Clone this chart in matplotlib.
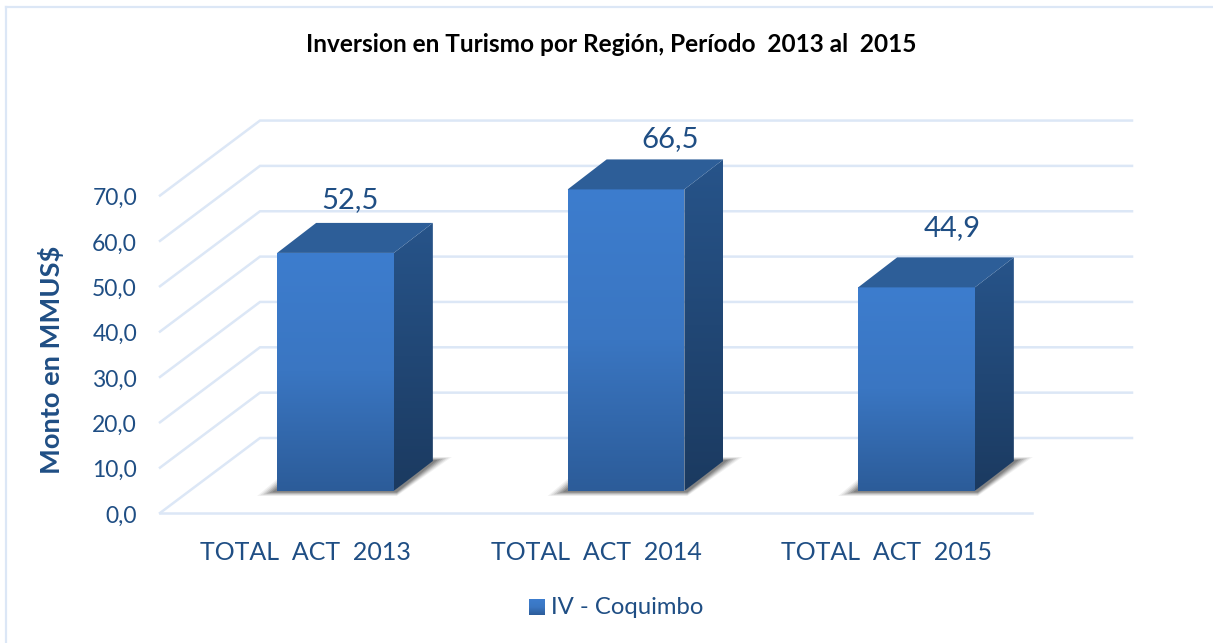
import numpy as np
import matplotlib
matplotlib.use("Agg")
import matplotlib.pyplot as plt
from matplotlib.patches import Polygon, Rectangle
from matplotlib.colors import LinearSegmentedColormap

categories = ["TOTAL  ACT  2013", "TOTAL  ACT  2014", "TOTAL  ACT  2015"]
values = [52.5, 66.5, 44.9]
value_labels = ["52,5", "66,5", "44,9"]
y_ticks = [0, 10, 20, 30, 40, 50, 60, 70]
y_tick_labels = ["0,0", "10,0", "20,0", "30,0", "40,0", "50,0", "60,0", "70,0"]
series_name = "IV - Coquimbo"
title = "Inversion en Turismo por Región, Período  2013 al  2015"
y_title = "Monto en MMUS$"

W, H = 1213, 643
PX_X, PX_Y = 290.5, 4.535
X0, Y0 = 335.5, 491.0
TXT = "#1F4E84"
GRID = "#DCE7F6"
# manual placement of the value labels, in pixels from the bar's back top edge
LABEL_SHIFT_X = [15, 44, 36]
LABEL_SHIFT_Y = [10, 7, 16]

plt.rcParams["font.family"] = ["Lato", "DejaVu Sans"]
fig = plt.figure(figsize=(W / 100, H / 100), dpi=100)
ax = fig.add_axes([0, 0, 1, 1])
ax.set_xlim(-X0 / PX_X, (W - X0) / PX_X)
ax.set_ylim((Y0 - H) / PX_Y, Y0 / PX_Y)
ax.axis("off")

def dx(p):
    return p / PX_X
def dy(p):
    return p / PX_Y

bar_w = dx(116.7)
dep_x, dep_y = dx(39), dy(30)
floor_l = dx(160) - X0 / PX_X
floor_r = dx(1032) - X0 / PX_X
floor_base = dy(-22)
wall_dx, wall_dy = dx(100), dy(75)

# frame
ax.plot([dx(5.5) - X0 / PX_X] * 2, [(Y0 - H) / PX_Y, dy(Y0 - 7)], color=GRID, lw=1.6, zorder=1)
ax.plot([dx(5.5) - X0 / PX_X, dx(1213) - X0 / PX_X], [dy(Y0 - 7)] * 2, color=GRID, lw=1.6, zorder=1)

# grid
for t, lab in zip(y_ticks, y_tick_labels):
    y = floor_base + t
    ax.plot([floor_l, floor_l + wall_dx, floor_r + wall_dx],
            [y, y + wall_dy, y + wall_dy], color=GRID, lw=1.8, zorder=1,
            solid_joinstyle="miter")
    ax.text(floor_l - dx(23), y - dy(3), lab, ha="right", va="center",
            fontsize=16.5, color=TXT)
ax.plot([floor_l, floor_r], [floor_base] * 2, color=GRID, lw=1.8, zorder=1)

front_cm = LinearSegmentedColormap.from_list("f", ["#3D7DCE", "#3A76C2", "#2C5C99"])
side_cm = LinearSegmentedColormap.from_list("s", ["#27548A", "#1B3A60"])

def grad(cm, ext, clip, z):
    g = np.linspace(0, 1, 256).reshape(-1, 1)
    im = ax.imshow(g, cmap=cm, extent=ext, origin="upper", aspect="auto", zorder=z, vmin=0, vmax=1)
    im.set_clip_path(clip)

for i, v in enumerate(values):
    l, r = i - bar_w / 2, i + bar_w / 2
    # soft shadow on the floor
    for k, a in zip([1.0, 0.85, 0.7, 0.55, 0.4, 0.25],
                    [0.07, 0.10, 0.14, 0.18, 0.22, 0.26]):
        ax.add_patch(Polygon([(l - dx(20 * k), -dy(5 * k)), (r + dx(3), -dy(5 * k)),
                              (r + dep_x + dx(19 * k), dep_y + dy(4 * k)),
                              (r + dep_x, dep_y + dy(4 * k)), (r, 0), (l, dy(12 * k))],
                             closed=True, fc="#444444", ec="none", alpha=a, zorder=2))
    # front
    p = Polygon([(l, 0), (r, 0), (r, v), (l, v)], closed=True, fc="none", ec="none")
    ax.add_patch(p)
    grad(front_cm, (l, r, 0, v), p, 3)
    # side
    p = Polygon([(r, 0), (r + dep_x, dep_y), (r + dep_x, v + dep_y), (r, v)], closed=True, fc="none", ec="none")
    ax.add_patch(p)
    grad(side_cm, (r, r + dep_x, 0, v + dep_y), p, 3)
    # top
    ax.add_patch(Polygon([(l, v), (r, v), (r + dep_x, v + dep_y), (l + dep_x, v + dep_y)],
                         closed=True, fc="#2D5E98", ec="none", zorder=3))
    ax.text(i + dx(LABEL_SHIFT_X[i]), v + dep_y + dy(LABEL_SHIFT_Y[i]), value_labels[i],
            ha="center", va="bottom", fontsize=21, color=TXT, zorder=4)
    ax.text(i - dx(30), floor_base - dy(39), categories[i], ha="center", va="center",
            fontsize=18, color=TXT)

ax.set_xlim(-X0 / PX_X, (W - X0) / PX_X)
ax.set_ylim((Y0 - H) / PX_Y, Y0 / PX_Y)

fig.text(611 / W, 1 - 45 / H, title, ha="center", va="center", fontsize=17.6, fontweight="bold", color="black")
fig.text(51.5 / W, 1 - 360 / H, y_title, ha="center", va="center", rotation=90, fontsize=19.6,
         fontweight="bold", color=TXT)

# legend swatch with the bar's gradient
sw = fig.add_axes([529 / W, 1 - 615 / H, 16 / W, 16 / H])
sw.imshow(np.linspace(0, 1, 64).reshape(-1, 1), cmap=front_cm, aspect="auto", vmin=0, vmax=1)
sw.axis("off")
fig.text(551 / W, 1 - 607 / H, series_name, ha="left", va="center", fontsize=17.2, color=TXT)

fig.savefig("out.png", dpi=100)
